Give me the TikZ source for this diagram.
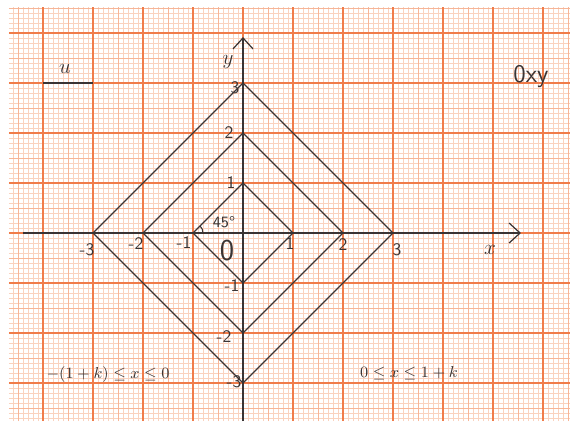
\documentclass[tikz,border=0pt]{standalone}
\usepackage{tikz}
\usetikzlibrary{arrows.meta}
\definecolor{gmaj}{HTML}{F07C4A}
\definecolor{gmid}{HTML}{F7B597}
\definecolor{gfine}{HTML}{FAD2BE}
\definecolor{pen}{HTML}{3A3434}
\tikzset{
  finegrid/.style={draw=gfine, line width=0.35pt},
  midgrid/.style={draw=gmid, line width=0.4pt},
  majgrid/.style={draw=gmaj, line width=0.8pt},
  axis/.style={draw=pen, line width=0.7pt, -{Straight Barb[length=2.2mm,width=4mm]}},
  curve/.style={draw=pen, line width=0.75pt, line join=miter},
  lbl/.style={text=pen, font=\sffamily, inner sep=1pt}
}

\begin{document}
\begin{tikzpicture}
\useasboundingbox (-4.86,-3.76) rectangle (6.54,4.66);
% graph paper
\draw[finegrid, step=0.1] (-4.68,-3.76) grid (6.54,4.52);
\draw[midgrid, step=0.5] (-4.68,-3.76) grid (6.54,4.52);
\draw[majgrid, step=1] (-4.68,-3.76) grid (6.54,4.52);
% axes
\coordinate (xs) at (-4.4,0);
\coordinate (xe) at (5.56,0);
\coordinate (ys) at (0,-3.76);
\coordinate (ye) at (0,3.92);
\draw[axis] (xs) -- (xe);
\draw[axis] (ys) -- (ye);
\node[lbl, font=\large] (xl) at (4.94,-0.34) {$x$};
\node[lbl, font=\large] (yl) at (-0.3,3.42) {$y$};
% level sets |x|+|y|=c
\foreach \c in {1,2,3}
  \draw[curve] (\c,0) -- (0,\c) -- (-\c,0) -- (0,-\c) -- cycle;
% ticks on x
\node[lbl] (xm3) at (-3.12,-0.34) {-3};
\node[lbl] (xm2) at (-2.14,-0.22) {-2};
\node[lbl] (xm1) at (-1.18,-0.2) {-1};
\node[lbl] (xp1) at (0.94,-0.22) {1};
\node[lbl] (xp2) at (2.0,-0.24) {2};
\node[lbl] (xp3) at (3.08,-0.34) {3};
% ticks on y
\node[lbl] (yp3) at (-0.16,2.9) {3};
\node[lbl] (yp2) at (-0.28,2.0) {2};
\node[lbl] (yp1) at (-0.24,1.0) {1};
\node[lbl] (ym1) at (-0.22,-1.06) {-1};
\node[lbl] (ym2) at (-0.38,-2.08) {-2};
\node[lbl] (ym3) at (-0.18,-2.98) {-3};
\node[lbl, font=\sffamily\LARGE] (o) at (-0.32,-0.36) {0};
% angle mark
\draw[curve, line width=0.6pt] (-0.8,0) arc[start angle=0, end angle=45, radius=0.2];
\node[lbl, font=\sffamily\small] (ang) at (-0.38,0.22) {45°};
% remarks
\coordinate (ua) at (-4,3);
\coordinate (ub) at (-3,3);
\draw[curve] (ua) -- (ub);
\node[lbl, font=\large] (u) at (-3.56,3.28) {$u$};
\node[lbl, font=\sffamily\Large] (oxy) at (5.76,3.12) {0xy};
\node[lbl, font=\small] (left) at (-2.7,-2.84) {$-(1+k)\le x\le 0$};
\node[lbl, font=\small] (right) at (3.32,-2.8) {$0\le x\le 1+k$};
\end{tikzpicture}
\end{document}
